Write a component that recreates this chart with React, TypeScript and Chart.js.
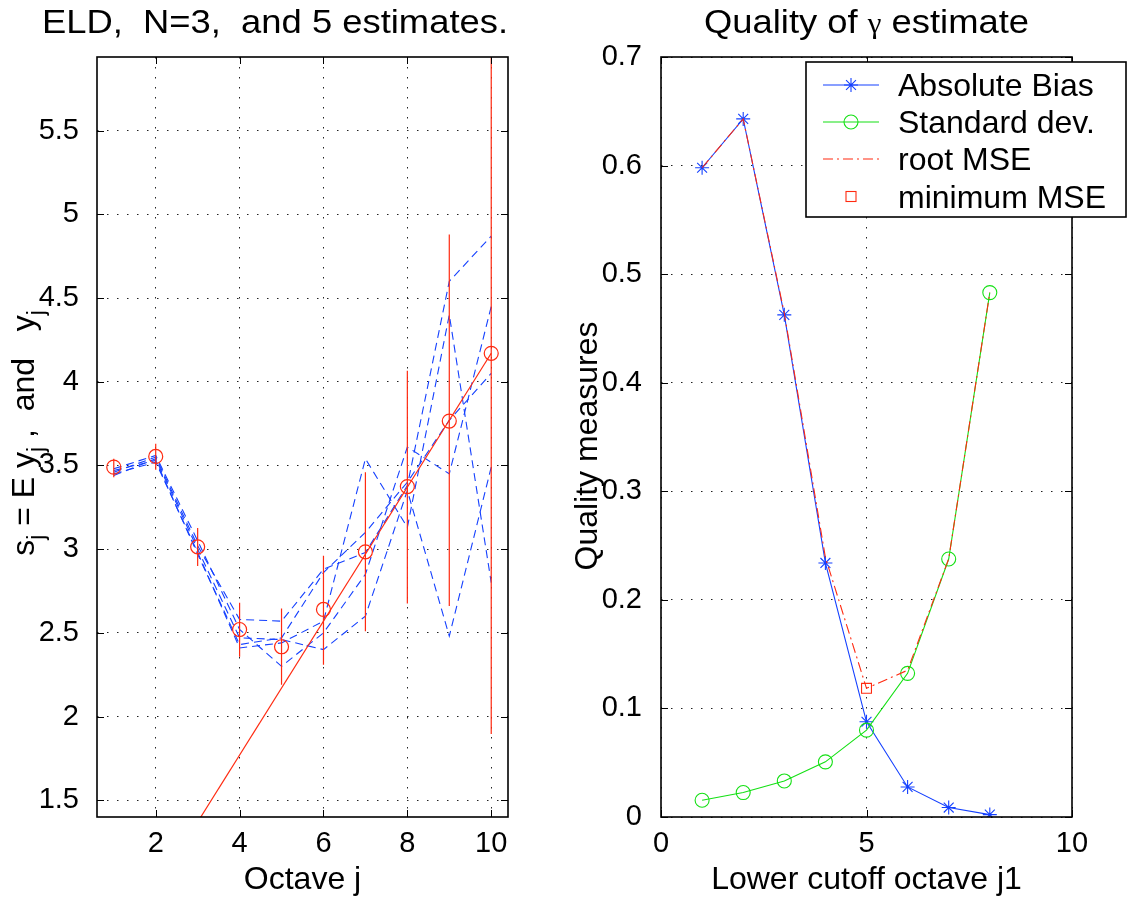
import React, { useEffect, useRef } from 'react';
import { Chart, registerables } from 'chart.js';

Chart.register(...registerables);

// ---------- Left panel data ----------
const octaves = [1, 2, 3, 4, 5, 6, 7, 8, 9, 10];
const meanY = [3.49, 3.554, 3.014, 2.52, 2.417, 2.64, 2.984, 3.374, 3.765, 4.17];
const errLow = [3.43, 3.475, 2.9, 2.358, 2.19, 2.31, 2.51, 2.675, 2.66, 1.896];
const errHigh = [3.54, 3.63, 3.126, 2.68, 2.645, 2.96, 3.46, 4.066, 4.88, 6.44];
const est1 = [3.45, 3.52, 2.98, 2.41, 2.44, 2.57, 3.54, 3.13, 4.4, 2.8];
const est2 = [3.46, 3.55, 3.02, 2.58, 2.57, 2.88, 2.98, 3.38, 4.6, 4.87];
const est3 = [3.48, 3.56, 3.05, 2.52, 2.3, 2.5, 2.85, 3.61, 3.45, 4.45];
const est4 = [3.44, 3.54, 3.0, 2.47, 2.46, 2.4, 2.6, 3.35, 2.48, 3.49];
const est5 = [3.47, 3.53, 2.97, 2.43, 2.47, 2.86, 3.1, 3.4, 3.77, 4.05];
const fitX = [1, 10];
const fitY = [0.57, 4.17];
const leftXTicks = [2, 4, 6, 8, 10];

// ---------- Right panel data ----------
const cutoffs = [1, 2, 3, 4, 5, 6, 7, 8];
const absBias = [0.598, 0.643, 0.4625, 0.234, 0.0877, 0.0277, 0.0087, 0.0022];
const stdDev = [0.0154, 0.0225, 0.0332, 0.0508, 0.08, 0.1323, 0.2376, 0.483];
const rootMSE = [0.598, 0.643, 0.464, 0.239, 0.1185, 0.1352, 0.2378, 0.483];
const minMSEx = [5];
const minMSEy = [0.1185];
const legendLabels = ['Absolute Bias', 'Standard dev.', 'root MSE', 'minimum MSE'];

const BLUE = '#1440ff';
const RED = '#ff2a10';
const GREEN = '#14e014';
const FAMILY = '"Liberation Sans", Arial, Helvetica, sans-serif';
const TICK_SIZE = 29;
const LABEL_SIZE = 32;
const TITLE_SIZE = 34;

type Run = { t: string; sub?: boolean; font?: string };

function drawRuns(
  ctx: CanvasRenderingContext2D,
  runs: Run[],
  cx: number,
  cy: number,
  angle: number,
  size: number,
  stretch = 1
) {
  const base = `${size}px ${FAMILY}`;
  const subF = `${Math.round(size * 0.72)}px ${FAMILY}`;
  ctx.save();
  ctx.translate(cx, cy);
  ctx.rotate(angle);
  ctx.scale(stretch, 1);
  let total = 0;
  const widths = runs.map((r) => {
    ctx.font = r.font ?? (r.sub ? subF : base);
    const w = ctx.measureText(r.t).width;
    total += w;
    return w;
  });
  let x = -total / 2;
  ctx.textAlign = 'left';
  ctx.textBaseline = 'alphabetic';
  ctx.fillStyle = '#000';
  runs.forEach((r, i) => {
    ctx.font = r.font ?? (r.sub ? subF : base);
    ctx.fillText(r.t, x, r.sub ? size * 0.3 : 0);
    x += widths[i];
  });
  ctx.restore();
}

function framePlugin(extra: (chart: any) => void) {
  return {
    id: 'frame',
    afterDraw(chart: any) {
      const { ctx, chartArea: a, scales } = chart;
      ctx.save();
      ctx.strokeStyle = '#000';
      ctx.lineWidth = 1;
      const tl = 7;
      scales.x.ticks.forEach((t: any) => {
        const px = Math.round(scales.x.getPixelForValue(t.value)) + 0.5;
        ctx.beginPath();
        ctx.moveTo(px, a.bottom);
        ctx.lineTo(px, a.bottom - tl);
        ctx.moveTo(px, a.top);
        ctx.lineTo(px, a.top + tl);
        ctx.stroke();
      });
      scales.y.ticks.forEach((t: any) => {
        const py = Math.round(scales.y.getPixelForValue(t.value)) + 0.5;
        ctx.beginPath();
        ctx.moveTo(a.left, py);
        ctx.lineTo(a.left + tl, py);
        ctx.moveTo(a.right, py);
        ctx.lineTo(a.right - tl, py);
        ctx.stroke();
      });
      ctx.lineWidth = 1.6;
      ctx.strokeRect(a.left, a.top, a.right - a.left, a.bottom - a.top);
      ctx.restore();
      extra(chart);
    },
  };
}

const fmt = (v: any) => String(Number(Number(v).toFixed(3)));

function axisCommon(size: number) {
  return {
    color: '#000',
    font: { family: FAMILY, size },
    maxRotation: 0,
    autoSkip: false,
    includeBounds: false,
    callback: fmt,
  };
}

const gridCommon = { color: '#222', lineWidth: 1, drawTicks: false };
const borderCommon = { display: false, dash: [1.5, 8.5] };

function leftConfig(): any {
  const ests = [est1, est2, est3, est4, est5];
  const errData: any[] = [];
  octaves.forEach((j, i) => {
    errData.push({ x: j, y: errLow[i] }, { x: j, y: errHigh[i] }, { x: j, y: null });
  });
  const datasets: any[] = ests.map((e, k) => ({
    label: `estimate ${k + 1}`,
    data: octaves.map((j, i) => ({ x: j, y: e[i] })),
    borderColor: BLUE,
    borderWidth: 1.1,
    borderDash: [8, 5],
    pointRadius: 0,
    fill: false,
    order: 5,
  }));
  datasets.push({
    label: 'error bars',
    data: errData,
    borderColor: RED,
    borderWidth: 1.2,
    pointRadius: 0,
    spanGaps: false,
    fill: false,
    order: 3,
  });
  datasets.push({
    label: 'fit',
    data: fitX.map((x, i) => ({ x, y: fitY[i] })),
    borderColor: RED,
    borderWidth: 1.2,
    pointRadius: 0,
    fill: false,
    order: 2,
  });
  datasets.push({
    label: 'E y_j',
    data: octaves.map((j, i) => ({ x: j, y: meanY[i] })),
    showLine: false,
    pointStyle: 'circle',
    pointRadius: 7,
    pointBorderWidth: 1.2,
    pointBorderColor: RED,
    pointBackgroundColor: 'rgba(0,0,0,0)',
    order: 1,
  });
  return {
    type: 'line',
    data: { datasets },
    options: {
      responsive: false,
      animation: false,
      devicePixelRatio: 1,
      events: [],
      layout: { padding: { left: 0, top: 57, right: 52, bottom: 0 } },
      plugins: { legend: { display: false }, tooltip: { enabled: false }, title: { display: false } },
      scales: {
        x: {
          type: 'linear',
          min: 0.6,
          max: 10.4,
          afterBuildTicks: (s: any) => {
            s.ticks = leftXTicks.map((v) => ({ value: v }));
          },
          ticks: { ...axisCommon(TICK_SIZE), stepSize: 2, padding: 10 },
          grid: gridCommon,
          border: borderCommon,
          afterFit: (s: any) => {
            s.height = 82;
          },
        },
        y: {
          type: 'linear',
          min: 1.4,
          max: 5.94,
          ticks: { ...axisCommon(TICK_SIZE), stepSize: 0.5, padding: 18 },
          grid: gridCommon,
          border: borderCommon,
          afterFit: (s: any) => {
            s.width = 97;
          },
        },
      },
    },
    plugins: [
      framePlugin((chart: any) => {
        const { ctx, chartArea: a } = chart;
        drawRuns(ctx, [{ t: 'ELD,  N=3,  and 5 estimates.' }], 275, 33, 0, TITLE_SIZE, 1.07);
        drawRuns(ctx, [{ t: 'Octave j' }], (a.left + a.right) / 2, 889, 0, LABEL_SIZE);
        drawRuns(
          ctx,
          [
            { t: 's' },
            { t: 'j', sub: true },
            { t: ' = E y' },
            { t: 'j', sub: true },
            { t: ' ,  and   y' },
            { t: 'j', sub: true },
          ],
          34,
          433,
          -Math.PI / 2,
          LABEL_SIZE
        );
      }),
    ],
  };
}

function drawAsterisk(ctx: CanvasRenderingContext2D, x: number, y: number, r: number) {
  ctx.beginPath();
  for (let k = 0; k < 4; k++) {
    const ang = (k * Math.PI) / 4;
    ctx.moveTo(x - r * Math.cos(ang), y - r * Math.sin(ang));
    ctx.lineTo(x + r * Math.cos(ang), y + r * Math.sin(ang));
  }
  ctx.stroke();
}

function rightConfig(): any {
  const datasets: any[] = [
    {
      label: legendLabels[0],
      data: cutoffs.map((x, i) => ({ x, y: absBias[i] })),
      borderColor: BLUE,
      borderWidth: 1.1,
      pointStyle: 'star',
      pointRadius: 7,
      pointBorderWidth: 1.1,
      pointBorderColor: BLUE,
      pointBackgroundColor: BLUE,
      fill: false,
      order: 4,
    },
    {
      label: legendLabels[1],
      data: cutoffs.map((x, i) => ({ x, y: stdDev[i] })),
      borderColor: GREEN,
      borderWidth: 1.1,
      pointStyle: 'circle',
      pointRadius: 7,
      pointBorderWidth: 1.1,
      pointBorderColor: GREEN,
      pointBackgroundColor: 'rgba(0,0,0,0)',
      fill: false,
      order: 3,
    },
    {
      label: legendLabels[2],
      data: cutoffs.map((x, i) => ({ x, y: rootMSE[i] })),
      borderColor: RED,
      borderWidth: 1.1,
      borderDash: [10, 4, 2, 4],
      pointRadius: 0,
      fill: false,
      order: 2,
    },
    {
      label: legendLabels[3],
      data: minMSEx.map((x, i) => ({ x, y: minMSEy[i] })),
      showLine: false,
      pointStyle: 'rect',
      pointRadius: 7,
      pointBorderWidth: 1.1,
      pointBorderColor: RED,
      pointBackgroundColor: 'rgba(0,0,0,0)',
      order: 1,
    },
  ];
  return {
    type: 'line',
    data: { datasets },
    options: {
      responsive: false,
      animation: false,
      devicePixelRatio: 1,
      events: [],
      layout: { padding: { left: 0, top: 57, right: 57, bottom: 0 } },
      plugins: { legend: { display: false }, tooltip: { enabled: false }, title: { display: false } },
      scales: {
        x: {
          type: 'linear',
          min: 0,
          max: 10,
          ticks: { ...axisCommon(TICK_SIZE), stepSize: 5, padding: 10 },
          grid: gridCommon,
          border: borderCommon,
          afterFit: (s: any) => {
            s.height = 82;
          },
        },
        y: {
          type: 'linear',
          min: 0,
          max: 0.7,
          ticks: { ...axisCommon(TICK_SIZE), stepSize: 0.1, padding: 19 },
          grid: gridCommon,
          border: borderCommon,
          afterFit: (s: any) => {
            s.width = 101;
          },
        },
      },
    },
    plugins: [
      framePlugin((chart: any) => {
        const { ctx, chartArea: a } = chart;
        drawRuns(
          ctx,
          [
            { t: 'Quality of ' },
            { t: 'γ', font: `29px "Liberation Serif", "DejaVu Serif", serif` },
            { t: ' estimate' },
          ],
          (a.left + a.right) / 2,
          33,
          0,
          TITLE_SIZE,
          1.07
        );
        drawRuns(ctx, [{ t: 'Lower cutoff octave j1' }], (a.left + a.right) / 2, 889, 0, LABEL_SIZE);
        drawRuns(ctx, [{ t: 'Quality measures' }], 37, 446, -Math.PI / 2, LABEL_SIZE);

        // legend
        const bx = 246, by = 62, bw = 320, bh = 155;
        ctx.save();
        ctx.fillStyle = '#fff';
        ctx.fillRect(bx, by, bw, bh);
        ctx.strokeStyle = '#000';
        ctx.lineWidth = 1.6;
        ctx.strokeRect(bx, by, bw, bh);
        const rows = [85, 122, 159, 196.5];
        const lx0 = 263, lx1 = 319, mx = 291, tx = 338;
        ctx.lineWidth = 1.1;
        ctx.strokeStyle = BLUE;
        ctx.beginPath();
        ctx.moveTo(lx0, rows[0]);
        ctx.lineTo(lx1, rows[0]);
        ctx.stroke();
        drawAsterisk(ctx, mx, rows[0], 7);
        ctx.strokeStyle = GREEN;
        ctx.beginPath();
        ctx.moveTo(lx0, rows[1]);
        ctx.lineTo(lx1, rows[1]);
        ctx.stroke();
        ctx.beginPath();
        ctx.arc(mx, rows[1], 7, 0, Math.PI * 2);
        ctx.stroke();
        ctx.strokeStyle = RED;
        ctx.setLineDash([10, 4, 2, 4]);
        ctx.beginPath();
        ctx.moveTo(lx0, rows[2]);
        ctx.lineTo(lx1, rows[2]);
        ctx.stroke();
        ctx.setLineDash([]);
        ctx.strokeRect(mx - 5, rows[3] - 5, 10, 10);
        ctx.fillStyle = '#000';
        ctx.font = `${LABEL_SIZE}px ${FAMILY}`;
        ctx.textAlign = 'left';
        ctx.textBaseline = 'alphabetic';
        legendLabels.forEach((l, i) => ctx.fillText(l, tx, rows[i] + 11));
        ctx.restore();
      }),
    ],
  };
}

export default function App() {
  const leftRef = useRef<HTMLCanvasElement>(null);
  const rightRef = useRef<HTMLCanvasElement>(null);
  useEffect(() => {
    const c1 = new Chart(leftRef.current as HTMLCanvasElement, leftConfig());
    const c2 = new Chart(rightRef.current as HTMLCanvasElement, rightConfig());
    return () => {
      c1.destroy();
      c2.destroy();
    };
  }, []);
  return (
    <div
      style={{
        position: 'fixed',
        left: 0,
        top: 0,
        width: 1129,
        height: 899,
        background: '#fff',
        overflow: 'hidden',
      }}
    >
      <canvas
        ref={leftRef}
        width={560}
        height={899}
        style={{ position: 'absolute', left: 0, top: 0, width: 560, height: 899 }}
      />
      <canvas
        ref={rightRef}
        width={569}
        height={899}
        style={{ position: 'absolute', left: 560, top: 0, width: 569, height: 899 }}
      />
    </div>
  );
}
